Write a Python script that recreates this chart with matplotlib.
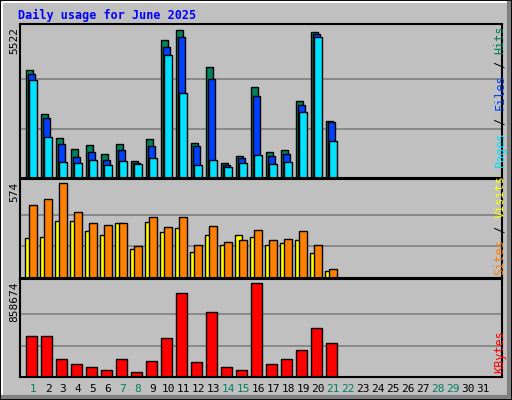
import numpy as np
import matplotlib.pyplot as plt
from matplotlib.patches import Rectangle

days = np.arange(1, 32)
hits = [4016, 2397, 1493, 1079, 1230, 891, 1268, 628, 1456, 5146, 5522, 1305, 4129, 552, 816,
        3376, 966, 1042, 2887, 5447, 2134]
files = [3866, 2246, 1268, 778, 966, 665, 1042, 565, 1192, 4882, 5258, 1192, 3677, 477, 740,
         3075, 816, 891, 2736, 5371, 2096]
pages = [3640, 1531, 590, 552, 665, 477, 628, 515, 740, 4581, 3188, 477, 665, 402, 552,
         853, 515, 590, 2472, 5258, 1380]
sites = [443, 474, 574, 399, 331, 318, 331, 193, 368, 306, 368, 200, 312, 218, 231,
         287, 231, 237, 281, 200, 56]
visits = [243, 250, 343, 343, 281, 262, 331, 175, 337, 275, 299, 156, 262, 200, 262,
          250, 200, 212, 231, 150, 44]
kbytes = [369800, 369800, 163000, 116000, 87700, 59500, 163000, 50100, 144000, 351000, 764700,
          134800, 595400, 87700, 59500, 858674, 116000, 163000, 247600, 445000, 313400]
weekend = [1, 7, 8, 14, 15, 21, 22, 28, 29]

W, H = 512, 400
fig = plt.figure(figsize=(W / 100, H / 100), dpi=100)
fig.patch.set_facecolor('#C0C0C0')
mono = 'DejaVu Sans Mono'

def px_axes(y0, y1):
    return fig.add_axes([20 / W, 1 - y1 / H, 482 / W, (y1 - y0) / H])

x = np.arange(1, len(hits) + 1)
xlim = (1 - 13 / 15, 1 + 469 / 15)

def style(ax, top, lab, ytop):
    ax.set_facecolor('#C0C0C0')
    ax.set_xlim(*xlim)
    ax.set_ylim(0, top * 1.04)
    for f in (1 / 3, 2 / 3):
        ax.axhline(top * f, color='#808080', lw=1.2, zorder=0)
    ax.set_xticks([])
    ax.set_yticks([])
    for s in ax.spines.values():
        s.set_linewidth(1.5)
    fig.text(14 / W, 1 - ytop / H, lab, rotation=90, ha='center', va='top',
             fontsize=8, family=mono)

bk = dict(edgecolor='black', linewidth=1)
ax1 = px_axes(24, 178)
ax1.bar(x - 0.25, hits, 0.47, color='#00805C', **bk)
ax1.bar(x - 0.12, files, 0.47, color='#0040FF', **bk)
ax1.bar(x, pages, 0.47, color='#00E0FF', **bk)
style(ax1, max(hits), str(max(hits)), 27)

ax2 = px_axes(179, 278)
ax2.bar(x - 0.27, visits, 0.47, color='#FFFF00', **bk)
ax2.bar(x, sites, 0.47, color='#FF8000', **bk)
style(ax2, max(sites), str(max(sites)), 182)

ax3 = px_axes(279, 377)
ax3.bar(x - 0.1, kbytes, 0.7, color='#FF0000', **bk)
style(ax3, max(kbytes), str(max(kbytes)), 282)

for d in days:
    fig.text((33 + 15 * (d - 1)) / W, 1 - 389 / H, str(d), ha='center', va='center', fontsize=8,
             family=mono, color='#00805C' if d in weekend else 'black')

fig.text(18 / W, 1 - 15 / H, 'Daily usage for June 2025', color='#0000FF', fontsize=8.5,
         fontweight='bold', family=mono, va='center')

def right_label(y, parts):
    # stack rotated coloured words from bottom to top
    yy = y
    for t, c in parts:
        fig.text(500 / W, 1 - yy / H, t, rotation=90, color=c, fontsize=8.5, family=mono,
                 ha='center', va='bottom')
        yy -= 7.08 * len(t)

right_label(167, [('Pages', '#00E0FF'), (' / ', 'black'), ('Files', '#0040FF'), (' / ', 'black'),
                  ('Hits', '#00805C')])
right_label(275, [('Sites', '#FF8000'), (' / ', 'black'), ('Visits', '#FFFF00')])
right_label(373, [('KBytes', '#FF0000')])

# bevelled outer frame
fig.patches.append(Rectangle((0.5 / W, 0.5 / H), 1 - 1 / W, 1 - 1 / H, transform=fig.transFigure,
                             fill=False, edgecolor='black', lw=1.5))
fig.add_artist(plt.Line2D([2 / W, 2 / W, 1 - 2 / W], [2 / H, 1 - 2 / H, 1 - 2 / H],
                          transform=fig.transFigure, color='white', lw=1.5))
fig.add_artist(plt.Line2D([3 / W, 1 - 3 / W, 1 - 3 / W], [3 / H, 3 / H, 1 - 3 / H],
                          transform=fig.transFigure, color='#808080', lw=3))

fig.savefig('out.png', dpi=100, facecolor=fig.get_facecolor())
